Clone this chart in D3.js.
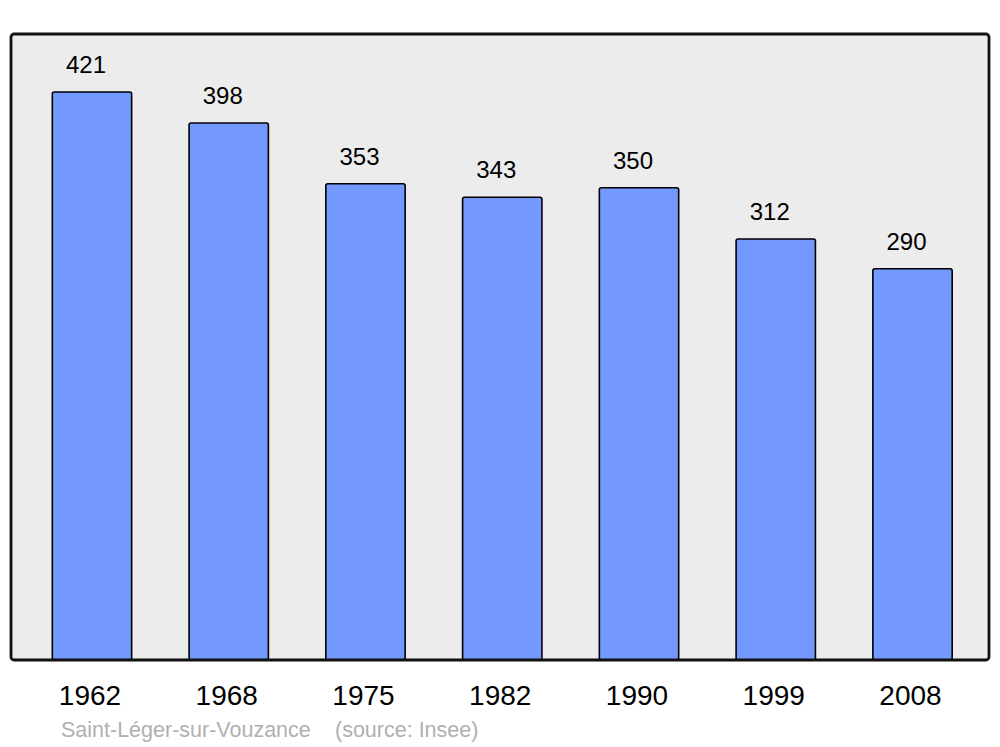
<!DOCTYPE html>
<html>
<head>
<meta charset="utf-8">
<script src="https://cdn.jsdelivr.net/npm/d3@7"></script>
<style>
  body { margin: 0; background: #fff; }
  text { font-family: "Liberation Sans", Arial, sans-serif; }
</style>
</head>
<body>
<div id="chart"></div>
<script>
var years = ["1962", "1968", "1975", "1982", "1990", "1999", "2008"];
var population = [421, 398, 353, 343, 350, 312, 290];
var town = "Saint-Léger-sur-Vouzance";
var source = "(source: Insee)";

var W = 1000, H = 747;
var frame = {x0: 11, y0: 34, x1: 989, y1: 660};

var svg = d3.select("#chart")
    .append("svg")
    .attr("width", W)
    .attr("height", H);

// Panel background
svg.append("rect")
    .attr("x", frame.x0)
    .attr("y", frame.y0)
    .attr("width", frame.x1 - frame.x0)
    .attr("height", frame.y1 - frame.y0)
    .attr("rx", 3)
    .attr("fill", "#ececec");

var x = d3.scaleBand()
    .domain(years)
    .range([23.6, 980.9])
    .paddingInner(0.42)
    .paddingOuter(0.21);

var y = d3.scaleLinear()
    .domain([0, 464])
    .range([frame.y1, frame.y0]);

svg.selectAll("rect.bar")
    .data(population)
    .enter()
    .append("rect")
    .attr("class", "bar")
    .attr("x", function(d, i) { return x(years[i]); })
    .attr("y", function(d) { return y(d); })
    .attr("width", x.bandwidth())
    .attr("height", function(d) { return y(0) - y(d); })
    .attr("rx", 2)
    .attr("fill", "#7399ff")
    .attr("stroke", "#000")
    .attr("stroke-width", 1.6);

svg.selectAll("text.val")
    .data(population)
    .enter()
    .append("text")
    .attr("class", "val")
    .attr("x", function(d, i) { return x(years[i]) + x.bandwidth() / 2 - 6; })
    .attr("y", function(d) { return y(d) - 19; })
    .attr("text-anchor", "middle")
    .attr("font-size", 24)
    .attr("fill", "#000")
    .text(function(d) { return d; });

// Frame border on top
svg.append("rect")
    .attr("x", frame.x0)
    .attr("y", frame.y0)
    .attr("width", frame.x1 - frame.x0)
    .attr("height", frame.y1 - frame.y0)
    .attr("rx", 3)
    .attr("fill", "none")
    .attr("stroke", "#111")
    .attr("stroke-width", 2.8);

// Year labels
svg.selectAll("text.year")
    .data(years)
    .enter()
    .append("text")
    .attr("class", "year")
    .attr("x", function(d) { return x(d) + x.bandwidth() / 2 - 2; })
    .attr("y", 705)
    .attr("text-anchor", "middle")
    .attr("font-size", 28)
    .attr("fill", "#000")
    .text(function(d) { return d; });

svg.append("text")
    .attr("x", 61)
    .attr("y", 737)
    .attr("font-size", 21.5)
    .attr("fill", "#b0b0b0")
    .text(town);

svg.append("text")
    .attr("x", 335)
    .attr("y", 737)
    .attr("font-size", 21.5)
    .attr("fill", "#b0b0b0")
    .text(source);
</script>
</body>
</html>
